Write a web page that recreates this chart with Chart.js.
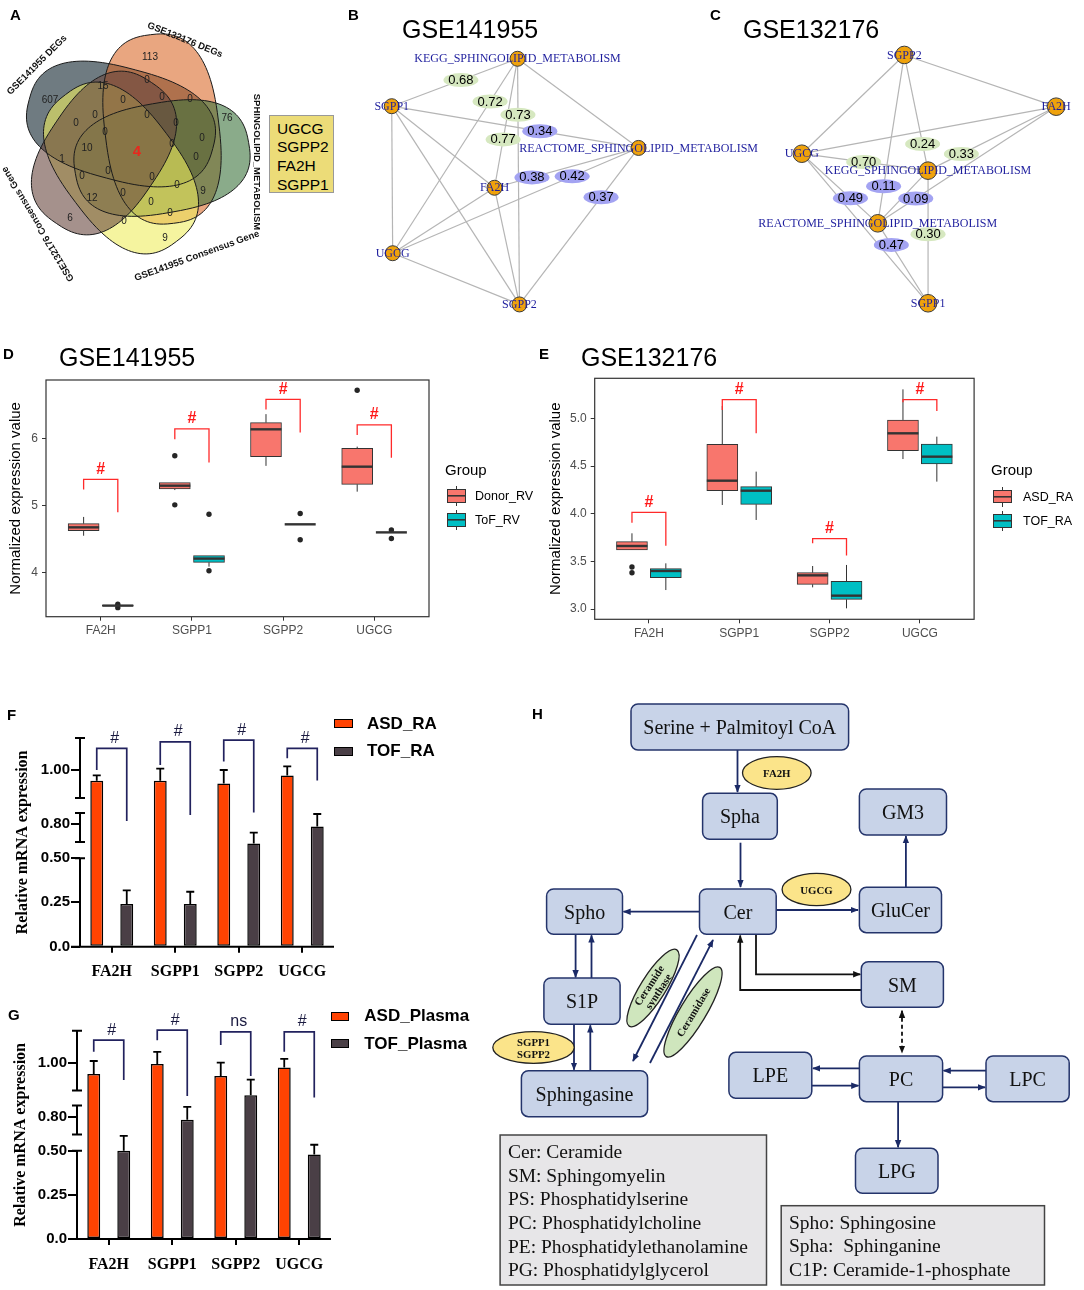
<!DOCTYPE html>
<html>
<head>
<meta charset="utf-8">
<script src="https://cdn.jsdelivr.net/npm/chart.js@4.4.1/dist/chart.umd.min.js"></script>
<style>
  body { margin: 0; background: #fff; }
  #page { position: relative; width: 1084px; height: 1290px; overflow: hidden; font-family: "Liberation Sans", Arial, sans-serif; }
  canvas { position: absolute; }
  .abs { position: absolute; white-space: nowrap; line-height: 20px; }
  .letter { font-weight: bold; font-size: 15px; }
  .title { font-size: 25px; line-height: 30px; }
  .genebox { position: absolute; left: 269px; top: 115px; width: 65px; height: 78px; box-sizing: border-box;
    border: 1px solid #999; background: #ecdc78; font-size: 15.5px; line-height: 18.7px; padding: 3.7px 0 0 7px; }
  .key { position: absolute; width: 19px; height: 13.3px; box-sizing: border-box; border: 1px solid #333;
    background-image: linear-gradient(#333, #333); background-size: 100% 1.6px; background-position: center; background-repeat: no-repeat; }
  .key::before, .key::after { content: ""; position: absolute; left: 8px; width: 1px; height: 3.5px; background: #333; }
  .key::before { top: -4.5px; }
  .key::after { bottom: -4.5px; }
  .bkey { position: absolute; width: 18.4px; height: 9px; box-sizing: border-box; border: 1.5px solid #000; }
  .blab { font-weight: bold; font-size: 17px; }
</style>
</head>
<body>
<div id="page">
  <canvas id="venn" width="340" height="300" style="left:0;top:0"></canvas>
  <canvas id="netB" width="430" height="330" style="left:340px;top:0"></canvas>
  <canvas id="netC" width="384" height="330" style="left:700px;top:0"></canvas>
  <canvas id="boxD" width="540" height="310" style="left:0;top:340px"></canvas>
  <canvas id="boxE" width="544" height="310" style="left:540px;top:340px"></canvas>
  <canvas id="barF" width="480" height="300" style="left:0;top:690px"></canvas>
  <canvas id="barG" width="480" height="300" style="left:0;top:990px"></canvas>

  <div class="abs letter" style="left:10px;top:5px">A</div>
  <div class="abs letter" style="left:348px;top:5px">B</div>
  <div class="abs letter" style="left:710px;top:5px">C</div>
  <div class="abs letter" style="left:3px;top:344px">D</div>
  <div class="abs letter" style="left:539px;top:344px">E</div>
  <div class="abs letter" style="left:7px;top:705px">F</div>
  <div class="abs letter" style="left:8px;top:1005px">G</div>
  <div class="abs letter" style="left:532px;top:704px">H</div>

  <div class="abs title" style="left:402px;top:14px">GSE141955</div>
  <div class="abs title" style="left:743px;top:14px">GSE132176</div>
  <div class="abs title" style="left:59px;top:342px">GSE141955</div>
  <div class="abs title" style="left:581px;top:342px">GSE132176</div>

  <div class="genebox" id="genebox"></div>

  <div class="abs" style="left:445px;top:460px;font-size:15px">Group</div>
  <div class="key" style="left:446.5px;top:489.3px;background-color:#F8766D"></div>
  <div class="key" style="left:446.5px;top:513.3px;background-color:#00BFC4"></div>
  <div class="abs" style="left:475px;top:486px;font-size:12.5px">Donor_RV</div>
  <div class="abs" style="left:475px;top:510px;font-size:12.5px">ToF_RV</div>

  <div class="abs" style="left:991px;top:460px;font-size:15px">Group</div>
  <div class="key" style="left:993.3px;top:490px;background-color:#F8766D"></div>
  <div class="key" style="left:993.3px;top:514.3px;background-color:#00BFC4"></div>
  <div class="abs" style="left:1023px;top:486.7px;font-size:12.5px">ASD_RA</div>
  <div class="abs" style="left:1023px;top:511px;font-size:12.5px">TOF_RA</div>

  <div class="bkey" style="left:334.3px;top:719.3px;background:#ff4302"></div>
  <div class="bkey" style="left:334.3px;top:746.7px;background:#4a3f46"></div>
  <div class="abs blab" style="left:367px;top:713.8px">ASD_RA</div>
  <div class="abs blab" style="left:367px;top:741.2px">TOF_RA</div>

  <div class="bkey" style="left:331px;top:1011.7px;background:#ff4302"></div>
  <div class="bkey" style="left:331px;top:1039.3px;background:#4a3f46"></div>
  <div class="abs blab" style="left:364.3px;top:1006.2px">ASD_Plasma</div>
  <div class="abs blab" style="left:364.3px;top:1033.8px">TOF_Plasma</div>

  <svg id="pathway" width="604" height="600" style="position:absolute;left:480px;top:690px"
       font-family="Liberation Serif, Times New Roman, serif">
    <defs>
      <marker id="ahN" viewBox="0 0 10 10" refX="9" refY="5" markerUnits="userSpaceOnUse" markerWidth="8" markerHeight="8" orient="auto-start-reverse">
        <path d="M0,1 L10,5 L0,9 z" fill="#1b2a66"/>
      </marker>
      <marker id="ahK" viewBox="0 0 10 10" refX="9" refY="5" markerUnits="userSpaceOnUse" markerWidth="8" markerHeight="8" orient="auto-start-reverse">
        <path d="M0,1 L10,5 L0,9 z" fill="#111"/>
      </marker>
    </defs>
    <g stroke="#1b2a66" stroke-width="1.8" fill="none" marker-end="url(#ahN)">
      <line x1="257.5" y1="60" x2="257.5" y2="102"/>
      <line x1="260.5" y1="152.7" x2="260.5" y2="197"/>
      <line x1="219.5" y1="221.7" x2="143.5" y2="221.7"/>
      <line x1="296.2" y1="220" x2="378" y2="220"/>
      <line x1="425.9" y1="197" x2="425.9" y2="146"/>
      <line x1="95.6" y1="244.3" x2="95.6" y2="287.3"/>
      <line x1="111.5" y1="288" x2="111.5" y2="245.3"/>
      <line x1="94" y1="334.3" x2="94" y2="379.7"/>
      <line x1="110.3" y1="380.7" x2="110.3" y2="335.3"/>
      <line x1="217" y1="245" x2="153" y2="371"/>
      <line x1="170" y1="373" x2="233" y2="250"/>
      <line x1="379.4" y1="378.3" x2="333" y2="378.3"/>
      <line x1="331.8" y1="395.7" x2="378.4" y2="395.7"/>
      <line x1="506" y1="380.7" x2="463.6" y2="380.7"/>
      <line x1="462.6" y1="397.3" x2="505" y2="397.3"/>
      <line x1="418.1" y1="411.7" x2="418.1" y2="457.3"/>
    </g>
    <g stroke="#111" stroke-width="1.8" fill="none" marker-end="url(#ahK)">
      <polyline points="276,244.3 276,284.3 380.3,284.3"/>
      <polyline points="381.3,300 260.2,300 260.2,245.5"/>
      <line x1="422" y1="320.7" x2="422" y2="362.7" stroke-dasharray="4 3" marker-start="url(#ahK)"/>
    </g>
    <g fill="#c8d3e8" stroke="#24346b" stroke-width="1.5">
      <rect x="151" y="14" width="217.6" height="46" rx="7"/>
      <rect x="222.6" y="103.3" width="74.7" height="46" rx="7"/>
      <rect x="379.4" y="99" width="87.1" height="46" rx="7"/>
      <rect x="66.6" y="199" width="75.9" height="45.3" rx="7"/>
      <rect x="219.5" y="199" width="76.7" height="45.3" rx="7"/>
      <rect x="379.4" y="197.3" width="82.1" height="45.4" rx="7"/>
      <rect x="381.3" y="271.7" width="82.1" height="45.6" rx="7"/>
      <rect x="63.9" y="288" width="76.2" height="46.3" rx="7"/>
      <rect x="41.4" y="380.7" width="126.2" height="46" rx="7"/>
      <rect x="248.9" y="362.3" width="82.9" height="46" rx="7"/>
      <rect x="379.4" y="366" width="83.2" height="45.7" rx="7"/>
      <rect x="506" y="366" width="83.2" height="45.7" rx="7"/>
      <rect x="375.5" y="458.3" width="82.5" height="45" rx="7"/>
    </g>
    <g font-size="20" text-anchor="middle" dominant-baseline="central" fill="#111">
      <text x="259.8" y="37">Serine + Palmitoyl CoA</text>
      <text x="260" y="126.3">Spha</text>
      <text x="423" y="122">GM3</text>
      <text x="104.6" y="221.7">Spho</text>
      <text x="257.9" y="221.7">Cer</text>
      <text x="420.5" y="220">GluCer</text>
      <text x="422.4" y="294.5">SM</text>
      <text x="102" y="311.2">S1P</text>
      <text x="104.5" y="403.7">Sphingasine</text>
      <text x="290.4" y="385.3">LPE</text>
      <text x="421" y="388.9">PC</text>
      <text x="547.6" y="388.9">LPC</text>
      <text x="416.8" y="480.8">LPG</text>
    </g>
    <g stroke="#222" stroke-width="1.3">
      <ellipse cx="296.8" cy="83" rx="34.3" ry="16.3" fill="#fbe48a"/>
      <ellipse cx="336.5" cy="199.5" rx="34.4" ry="16.2" fill="#fbe48a"/>
      <ellipse cx="53.5" cy="357.5" rx="40.7" ry="15.8" fill="#fbe48a"/>
      <ellipse cx="173" cy="298" rx="45" ry="12.5" fill="#cfe6bd" transform="rotate(-58 173 298)"/>
      <ellipse cx="213" cy="322" rx="52" ry="13" fill="#cfe6bd" transform="rotate(-59 213 322)"/>
    </g>
    <g font-size="10.8" font-weight="bold" text-anchor="middle" dominant-baseline="central" fill="#111">
      <text x="296.8" y="83">FA2H</text>
      <text x="336.5" y="199.5">UGCG</text>
      <text x="53.5" y="351.5">SGPP1</text>
      <text x="53.5" y="364">SGPP2</text>
      <g transform="translate(173 298) rotate(-57)">
        <text x="0" y="-5">Ceramide</text>
        <text x="0" y="6">synthase</text>
      </g>
      <g transform="translate(213 322) rotate(-59)">
        <text x="0" y="0">Ceramidase</text>
      </g>
    </g>
    <rect x="20.1" y="445" width="266.4" height="150" fill="#e7e6e8" stroke="#444" stroke-width="1.5"/>
    <rect x="301.2" y="515.7" width="263.3" height="79.3" fill="#e7e6e8" stroke="#444" stroke-width="1.5"/>
    <g font-size="19.5" dominant-baseline="central" fill="#111">
      <text x="27.9" y="461.7">Cer: Ceramide</text>
      <text x="27.9" y="485.3">SM: Sphingomyelin</text>
      <text x="27.9" y="508.9">PS: Phosphatidylserine</text>
      <text x="27.9" y="532.5">PC: Phosphatidylcholine</text>
      <text x="27.9" y="556.1">PE: Phosphatidylethanolamine</text>
      <text x="27.9" y="579.7">PG: Phosphatidylglycerol</text>
      <text x="309" y="532.3">Spho: Sphingosine</text>
      <text x="309" y="555.7" xml:space="preserve">Spha:  Sphinganine</text>
      <text x="309" y="579">C1P: Ceramide-1-phosphate</text>
    </g>
  </svg>
</div>

<script>
// ---------------- data ----------------
const genes = ['FA2H', 'SGPP1', 'SGPP2', 'UGCG'];

// A: five-set Venn
const vennSets = ['GSE141955 DEGs', 'GSE132176 DEGs', 'SPHINGOLIPID_METABOLISM', 'GSE141955 Consensus Gene', 'GSE132176 Consensus Gene'];
const vennCounts = [607, 113, 15, 0, 0, 0, 0, 0, 0, 76, 0, 0, 0, 0, 10, 4, 0, 0, 1, 0, 0, 0, 0, 9, 12, 0, 0, 0, 6, 0, 9];
const vennCountX = [50, 150, 103, 147, 162, 190, 123, 95, 147, 227, 76, 105, 176, 202, 87, 137, 172, 196, 62, 82, 108, 152, 177, 203, 92, 123, 151, 170, 70, 124, 165];
const vennCountY = [100, 57, 86, 80, 97, 99, 100, 115, 115, 118, 123, 132, 123, 138, 148, 152, 144, 157, 159, 176, 171, 177, 185, 191, 198, 193, 202, 213, 218, 221, 238];
const sharedGenes = ['UGCG', 'SGPP2', 'FA2H', 'SGPP1'];

// B: GSE141955 network
const netBNodes = ['KEGG_SPHINGOLIPID_METABOLISM', 'SGPP1', 'REACTOME_SPHINGOLIPID_METABOLISM', 'FA2H', 'UGCG', 'SGPP2'];
const netBX = [176, 45, 302, 152, 46, 178];
const netBY = [53, 103, 147, 189, 258, 312];
const netBFrom = [0, 0, 0, 0, 0, 2, 2, 2, 2, 1, 1, 1, 3, 3, 4];
const netBTo = [1, 4, 5, 3, 2, 1, 3, 4, 5, 3, 4, 5, 4, 5, 5];
const netBWeight = [0.68, 0.72, 0.73, 0.77, null, 0.34, 0.38, 0.42, 0.37, null, null, null, null, null, null];
const netBLabelT = [0.45, 0.22, 0.228, 0.625, 0, 0.4, 0.74, 0.27, 0.315, 0, 0, 0, 0, 0, 0];

// C: GSE132176 network
const netCNodes = ['SGPP2', 'FA2H', 'UGCG', 'KEGG_SPHINGOLIPID_METABOLISM', 'REACTOME_SPHINGOLIPID_METABOLISM', 'SGPP1'];
const netCX = [205, 365, 97, 230, 177, 230];
const netCY = [48, 103, 153, 171, 227, 312];
const netCFrom = [0, 0, 0, 0, 1, 1, 1, 2, 2, 2, 3, 3, 4];
const netCTo = [2, 1, 3, 4, 2, 3, 4, 3, 4, 5, 4, 5, 5];
const netCWeight = [null, null, 0.24, 0.11, null, 0.33, 0.09, 0.70, 0.49, null, null, 0.30, 0.47];
const netCLabelT = [0, 0, 0.77, 0.78, 0, 0.74, 0.787, 0.49, 0.64, 0, 0, 0.48, 0.27];

// D: GSE141955 box stats [lower whisker, q1, median, q3, upper whisker]
const donorRv = [[4.55, 4.625, 4.675, 4.73, 4.83], [5.23, 5.245, 5.295, 5.34, 5.34], [5.59, 5.727, 6.134, 6.233, 6.36], [5.206, 5.315, 5.578, 5.851, 5.876]];
const donorRvOut = [[], [5.74, 5.01], [], [6.715]];
const tofRv = [[3.49, 3.505, 3.51, 3.515, 3.53], [4.09, 4.154, 4.21, 4.253, 4.253], [4.72, 4.72, 4.72, 4.72, 4.72], [4.6, 4.6, 4.6, 4.6, 4.6]];
const tofRvOut = [[3.53, 3.48], [4.87, 4.03], [4.88, 4.49], [4.635, 4.51]];
const dTicks = [4, 5, 6];
const dTickLabels = ['4', '5', '6'];
const dBracket = [[5.39, 5.24, 4.90], [6.14, 5.985, 5.64], [6.58, 6.43, 6.085], [6.2, 6.05, 5.71]];

// E: GSE132176 box stats
const asdRa = [[3.62, 3.619, 3.661, 3.706, 3.794], [4.091, 4.241, 4.346, 4.727, 5.129], [3.227, 3.259, 3.353, 3.381, 3.451], [4.573, 4.661, 4.843, 4.983, 5.304]];
const asdRaOut = [[3.44, 3.38], [], [], []];
const tofRa = [[3.199, 3.329, 3.399, 3.423, 3.479], [3.934, 4.098, 4.241, 4.283, 4.441], [3.007, 3.101, 3.14, 3.29, 3.462], [4.336, 4.521, 4.598, 4.731, 4.808]];
const tofRaOut = [[], [], [], []];
const eTicks = [3.0, 3.5, 4.0, 4.5, 5.0];
const eTickLabels = ['3.0', '3.5', '4.0', '4.5', '5.0'];
const eBracket = [[4.014, 3.906, 3.664], [5.196, 5.087, 4.843], [3.738, 3.689, 3.56], [5.196, 5.168, 5.077]];

// F / G: qPCR means and SD
const raAsdMean = [0.96, 0.96, 0.95, 0.98];
const raAsdSd = [0.02, 0.045, 0.05, 0.033];
const raTofMean = [0.24, 0.24, 0.63, 0.78];
const raTofSd = [0.078, 0.07, 0.097, 0.058];
const raSig = ['#', '#', '#', '#'];
const raBracket = [[1.08, 1.0, 0.812], [1.104, 1.018, 0.834], [1.11, 1.031, 0.843], [1.08, 1.043, 0.961]];

const plasmaAsdMean = [0.958, 0.995, 0.951, 0.982];
const plasmaAsdSd = [0.048, 0.045, 0.049, 0.032];
const plasmaTofMean = [0.50, 0.774, 0.88, 0.479];
const plasmaTofSd = [0.132, 0.063, 0.057, 0.074];
const plasmaSig = ['#', '#', 'ns', '#'];
const plasmaBracket = [[1.083, 1.04, 0.936], [1.12, 1.083, 0.877], [1.114, 1.065, 0.951], [1.114, 1.04, 0.871]];

const qpcrTicks = [0, 0.25, 0.5, 0.8, 1.0];
const qpcrTickLabels = ['0.0', '0.25', '0.50', '0.80', '1.00'];
// broken axis: value knots and where they sit along the axis
const brokenKnotValue = [0, 0.25, 0.5, 0.8, 1.0, 1.118];
const brokenKnotFrac = [0, 0.2127, 0.4236, 0.5865, 0.8467, 1];
const brokenSegments = [[0, 0.5], [0.644, 0.842], [0.897, 1.118]];

// ---------------- setup ----------------
Chart.defaults.font.family = '"Liberation Sans", Arial, sans-serif';
Chart.defaults.color = '#000';
const SANS = '"Liberation Sans", Arial, sans-serif';
const SERIF = '"Liberation Serif", "Times New Roman", serif';

document.getElementById('genebox').innerHTML = sharedGenes.join('<br>');

class BrokenScale extends Chart.LinearScale {
  static id = 'broken';
  static defaults = Chart.LinearScale.defaults;
  getPixelForValue(value) {
    const kv = brokenKnotValue, kf = brokenKnotFrac;
    let f = 0;
    for (let i = 1; i < kv.length; i++) {
      if (value <= kv[i] || i === kv.length - 1) {
        f = kf[i - 1] + (value - kv[i - 1]) / (kv[i] - kv[i - 1]) * (kf[i] - kf[i - 1]);
        break;
      }
    }
    return this.getPixelForDecimal(f);
  }
  getValueForPixel(pixel) {
    const f = this.getDecimalForPixel(pixel);
    const kv = brokenKnotValue, kf = brokenKnotFrac;
    for (let i = 1; i < kf.length; i++) {
      if (f <= kf[i] || i === kf.length - 1) {
        return kv[i - 1] + (f - kf[i - 1]) / (kf[i] - kf[i - 1]) * (kv[i] - kv[i - 1]);
      }
    }
    return 0;
  }
}
Chart.register(BrokenScale);

const base = { responsive: false, animation: false, events: [], devicePixelRatio: 1 };
const noLegend = { legend: { display: false }, tooltip: { enabled: false } };

// ---------------- A: Venn ----------------
const vennFill = ['rgba(15,35,45,0.6)', 'rgba(218,107,43,0.6)', 'rgba(60,115,60,0.6)', 'rgba(238,236,95,0.6)', 'rgba(105,72,63,0.6)'];
// shape layout: centre, half-length, half-width, rotation (deg)
const vennShapeCX = [121, 162, 162, 121, 104];
const vennShapeCY = [124, 129, 158, 168, 153];
const vennShapeA = [95, 95, 88, 92, 85];
const vennShapeB = [56, 57, 55, 57, 57];
const vennShapeRot = [15, 83, 170, 233, 304];

const vennPlugin = {
  id: 'vennShapes',
  beforeDatasetsDraw(chart) {
    const { ctx } = chart;
    const sx = chart.scales.x, sy = chart.scales.y;
    const paths = vennSets.map((_, k) => {
      const cx = vennShapeCX[k], cy = vennShapeCY[k], a = vennShapeA[k], b = vennShapeB[k];
      const rot = vennShapeRot[k] * Math.PI / 180;
      const p = new Path2D();
      const n = 2.6;
      for (let j = 0; j <= 120; j++) {
        const t = j / 120 * Math.PI * 2;
        const c = Math.cos(t), si = Math.sin(t);
        const ex = a * Math.sign(c) * Math.pow(Math.abs(c), 2 / n);
        const ey = b * Math.sign(si) * Math.pow(Math.abs(si), 2 / n);
        const vx = cx + ex * Math.cos(rot) - ey * Math.sin(rot);
        const vy = cy + ex * Math.sin(rot) + ey * Math.cos(rot);
        const px = sx.getPixelForValue(vx), py = sy.getPixelForValue(vy);
        if (j === 0) p.moveTo(px, py); else p.lineTo(px, py);
      }
      p.closePath();
      return p;
    });
    ctx.save();
    paths.forEach((p, k) => { ctx.fillStyle = vennFill[k]; ctx.fill(p); });
    ctx.strokeStyle = '#1a1a1a';
    ctx.lineWidth = 1;
    paths.forEach((p) => ctx.stroke(p));
    ctx.restore();
  },
  afterDatasetsDraw(chart) {
    const { ctx } = chart;
    const meta = chart.getDatasetMeta(0);
    ctx.save();
    ctx.textAlign = 'center';
    ctx.textBaseline = 'middle';
    meta.data.forEach((pt, i) => {
      const v = vennCounts[i];
      if (v === 4) { ctx.font = 'bold 15px ' + SANS; ctx.fillStyle = '#e8281e'; }
      else { ctx.font = '10px ' + SANS; ctx.fillStyle = '#222'; }
      ctx.fillText(String(v), pt.x, pt.y);
    });
    const labelPos = [[37, 65, -45], [185, 40, 22], [257, 162, 90], [197, 256, -20], [38, 224, -121]];
    ctx.font = 'bold 9.5px ' + SANS;
    ctx.fillStyle = '#111';
    vennSets.forEach((name, k) => {
      const [lx, ly, r] = labelPos[k];
      ctx.save();
      ctx.translate(lx, ly);
      ctx.rotate(r * Math.PI / 180);
      ctx.fillText(name, 0, 0);
      ctx.restore();
    });
    ctx.restore();
  },
};

new Chart(document.getElementById('venn'), {
  type: 'scatter',
  data: { datasets: [{ data: vennCounts.map((c, i) => ({ x: vennCountX[i], y: vennCountY[i] })), pointRadius: 0 }] },
  options: {
    ...base,
    plugins: noLegend,
    layout: { padding: 0 },
    scales: {
      x: { type: 'linear', min: 0, max: 340, display: false },
      y: { type: 'linear', min: 0, max: 300, reverse: true, display: false },
    },
  },
  plugins: [vennPlugin],
});

// ---------------- B / C: networks ----------------
const netPlugin = {
  id: 'netLabels',
  afterDatasetsDraw(chart, args, o) {
    const { ctx } = chart;
    const sx = chart.scales.x, sy = chart.scales.y;
    ctx.save();
    o.weight.forEach((w, i) => {
      if (w === null) return;
      const f = o.from[i], t = o.to[i], tt = o.t[i];
      const px = sx.getPixelForValue(o.nx[f] + tt * (o.nx[t] - o.nx[f]));
      const py = sy.getPixelForValue(o.ny[f] + tt * (o.ny[t] - o.ny[f]));
      const isKegg = o.nodes[f].startsWith('KEGG') || o.nodes[t].startsWith('KEGG');
      ctx.beginPath();
      ctx.ellipse(px, py, 17.5, 7, 0, 0, Math.PI * 2);
      ctx.fillStyle = isKegg ? '#d6e8c0' : '#a3a3f2';
      ctx.fill();
      ctx.fillStyle = '#000';
      ctx.font = '13px ' + SANS;
      ctx.textAlign = 'center';
      ctx.textBaseline = 'middle';
      ctx.fillText(w.toFixed(2), px, py + 0.5);
    });
    const meta = chart.getDatasetMeta(0);
    ctx.font = '12px ' + SERIF;
    ctx.fillStyle = '#1f1f9e';
    ctx.textAlign = 'center';
    ctx.textBaseline = 'middle';
    meta.data.forEach((pt, i) => ctx.fillText(o.nodes[i], pt.x, pt.y + 0.5));
    ctx.restore();
  },
};

function netChart(id, nodes, nx, ny, from, to, weight, t, r) {
  const el = document.getElementById(id);
  const datasets = [{
    type: 'scatter',
    data: nodes.map((n, i) => ({ x: nx[i], y: ny[i] })),
    pointRadius: r,
    backgroundColor: '#efa20c',
    borderColor: '#3a3a3a',
    borderWidth: 1,
  }];
  from.forEach((f, i) => {
    datasets.push({
      type: 'line',
      data: [{ x: nx[f], y: ny[f] }, { x: nx[to[i]], y: ny[to[i]] }],
      borderColor: '#b5b5b5',
      borderWidth: 1.2,
      pointRadius: 0,
      fill: false,
    });
  });
  return new Chart(el, {
    type: 'scatter',
    data: { datasets },
    options: {
      ...base,
      layout: { padding: 0 },
      plugins: { ...noLegend, netLabels: { nodes, nx, ny, from, to, weight, t } },
      scales: {
        x: { type: 'linear', min: 0, max: el.width, display: false },
        y: { type: 'linear', min: 0, max: el.height, reverse: true, display: false },
      },
    },
    plugins: [netPlugin],
  });
}

netChart('netB', netBNodes, netBX, netBY, netBFrom, netBTo, netBWeight, netBLabelT, 7.5);
netChart('netC', netCNodes, netCX, netCY, netCFrom, netCTo, netCWeight, netCLabelT, 8.8);

// ---------------- D / E: box plots ----------------
const boxPlugin = {
  id: 'boxParts',
  afterDatasetsDraw(chart, args, o) {
    const { ctx, chartArea: ca } = chart;
    const sy = chart.scales.y;
    ctx.save();
    chart.data.datasets.forEach((ds, di) => {
      if (!ds.stats) return;
      const meta = chart.getDatasetMeta(di);
      ds.stats.forEach((s, i) => {
        const el = meta.data[i];
        const hw = el.width / 2;
        ctx.strokeStyle = '#333';
        ctx.lineWidth = 1;
        ctx.beginPath();
        ctx.moveTo(el.x, sy.getPixelForValue(s[0]));
        ctx.lineTo(el.x, sy.getPixelForValue(s[1]));
        ctx.moveTo(el.x, sy.getPixelForValue(s[3]));
        ctx.lineTo(el.x, sy.getPixelForValue(s[4]));
        ctx.stroke();
        ctx.lineWidth = 2.4;
        ctx.beginPath();
        ctx.moveTo(el.x - hw, sy.getPixelForValue(s[2]));
        ctx.lineTo(el.x + hw, sy.getPixelForValue(s[2]));
        ctx.stroke();
      });
    });
    // significance brackets
    const m1 = chart.getDatasetMeta(1), m2 = chart.getDatasetMeta(2);
    ctx.strokeStyle = '#ff2a2a';
    ctx.fillStyle = '#ff1a1a';
    ctx.lineWidth = 1.3;
    ctx.font = 'bold 16px ' + SANS;
    ctx.textAlign = 'center';
    ctx.textBaseline = 'middle';
    o.brackets.forEach((b, i) => {
      const xl = m1.data[i].x, xr = m2.data[i].x;
      const yt = sy.getPixelForValue(b[0]);
      ctx.beginPath();
      ctx.moveTo(xl, sy.getPixelForValue(b[1]));
      ctx.lineTo(xl, yt);
      ctx.lineTo(xr, yt);
      ctx.lineTo(xr, sy.getPixelForValue(b[2]));
      ctx.stroke();
      ctx.fillText('#', (xl + xr) / 2, yt - 10);
    });
    // panel border
    ctx.strokeStyle = '#333';
    ctx.lineWidth = 1.2;
    ctx.strokeRect(ca.left, ca.top, ca.right - ca.left, ca.bottom - ca.top);
    ctx.restore();
  },
};

function boxChart(id, o) {
  const dx = 0.1875;
  const outs = [];
  o.outA.forEach((arr, i) => arr.forEach((v) => outs.push({ x: i + 1 - dx, y: v })));
  o.outB.forEach((arr, i) => arr.forEach((v) => outs.push({ x: i + 1 + dx, y: v })));
  const boxDs = (stats, off, color) => ({
    data: stats.map((s, i) => ({ x: i + 1 + off, y: [s[1], s[3]] })),
    backgroundColor: color,
    borderColor: '#333',
    borderWidth: 1,
    borderSkipped: false,
    barThickness: 31,
    grouped: false,
    stats,
  });
  return new Chart(document.getElementById(id), {
    type: 'bar',
    data: {
      datasets: [
        { type: 'scatter', data: outs, pointRadius: 2.7, backgroundColor: '#262626', borderWidth: 0 },
        boxDs(o.a, -dx, '#F8766D'),
        boxDs(o.b, dx, '#00BFC4'),
      ],
    },
    options: {
      ...base,
      layout: { padding: o.pad },
      plugins: { ...noLegend, boxParts: { brackets: o.brackets } },
      scales: {
        x: {
          type: 'linear', min: 0.4, max: 4.6, offset: false,
          afterBuildTicks: (s) => { s.ticks = genes.map((g, i) => ({ value: i + 1 })); },
          ticks: { callback: (v) => genes[v - 1], color: '#4d4d4d', font: { size: 12 }, padding: 3, maxRotation: 0, autoSkip: false },
          grid: { drawOnChartArea: false, drawTicks: true, tickLength: 4, color: '#333', offset: false },
          border: { display: false },
          afterFit: (s) => { s.height = 20; },
        },
        y: {
          type: 'linear', min: o.yMin, max: o.yMax, beginAtZero: false,
          afterBuildTicks: (s) => { s.ticks = o.ticks.map((v) => ({ value: v })); },
          ticks: { callback: (v, i) => o.tickLabels[i], color: '#4d4d4d', font: { size: 12 }, padding: 4 },
          grid: { drawOnChartArea: false, drawTicks: true, tickLength: 4, color: '#333' },
          border: { display: false },
          title: { display: true, text: 'Normalized expression value', font: { size: 15 }, color: '#000', padding: { top: o.titlePad, bottom: 0 } },
          afterFit: (s) => { s.width = o.axisW; },
        },
      },
    },
    plugins: [boxPlugin],
  });
}

boxChart('boxD', {
  a: donorRv, b: tofRv, outA: donorRvOut, outB: tofRvOut, brackets: dBracket,
  yMin: 3.345, yMax: 6.868, ticks: dTicks, tickLabels: dTickLabels,
  pad: { left: 0, right: 111, top: 40, bottom: 13.3 }, axisW: 46, titlePad: 6.6,
});
boxChart('boxE', {
  a: asdRa, b: tofRa, outA: asdRaOut, outB: tofRaOut, brackets: eBracket,
  yMin: 2.892, yMax: 5.42, ticks: eTicks, tickLabels: eTickLabels,
  pad: { left: 0, right: 109.9, top: 38.3, bottom: 10.7 }, axisW: 54.7, titlePad: 6.7,
});

// ---------------- F / G: qPCR bars ----------------
const qpcrPlugin = {
  id: 'qpcrParts',
  afterDatasetsDraw(chart, args, o) {
    const { ctx, chartArea: ca } = chart;
    const sy = chart.scales.y;
    ctx.save();
    // broken y axis
    ctx.strokeStyle = '#000';
    ctx.lineWidth = 2;
    brokenSegments.forEach((seg, si) => {
      const y0 = sy.getPixelForValue(seg[0]), y1 = sy.getPixelForValue(seg[1]);
      ctx.beginPath();
      ctx.moveTo(ca.left, y0);
      ctx.lineTo(ca.left, y1);
      if (si > 0) { ctx.moveTo(ca.left - 5, y0); ctx.lineTo(ca.left + 5, y0); }
      ctx.moveTo(ca.left - 5, y1);
      ctx.lineTo(ca.left + 5, y1);
      ctx.stroke();
    });
    // x axis line
    ctx.beginPath();
    ctx.moveTo(ca.left - 9, ca.bottom);
    ctx.lineTo(ca.right, ca.bottom);
    ctx.stroke();
    // error bars
    ctx.lineWidth = 1.8;
    chart.data.datasets.forEach((ds, di) => {
      const meta = chart.getDatasetMeta(di);
      ds.data.forEach((v, i) => {
        const el = meta.data[i];
        const yt = sy.getPixelForValue(v), ye = sy.getPixelForValue(v + ds.err[i]);
        ctx.beginPath();
        ctx.moveTo(el.x, yt);
        ctx.lineTo(el.x, ye);
        ctx.moveTo(el.x - 4, ye);
        ctx.lineTo(el.x + 4, ye);
        ctx.stroke();
      });
    });
    // brackets
    const m0 = chart.getDatasetMeta(0), m1 = chart.getDatasetMeta(1);
    ctx.strokeStyle = '#22225e';
    ctx.fillStyle = '#1a1a40';
    ctx.lineWidth = 1.7;
    ctx.font = '16px ' + SANS;
    ctx.textAlign = 'center';
    ctx.textBaseline = 'middle';
    o.brackets.forEach((b, i) => {
      const xl = m0.data[i].x, xr = m1.data[i].x;
      const yt = sy.getPixelForValue(b[0]);
      ctx.beginPath();
      ctx.moveTo(xl, sy.getPixelForValue(b[1]));
      ctx.lineTo(xl, yt);
      ctx.lineTo(xr, yt);
      ctx.lineTo(xr, sy.getPixelForValue(b[2]));
      ctx.stroke();
      ctx.fillText(o.sig[i], (xl + xr) / 2 + 3, yt - 10);
    });
    ctx.restore();
  },
};

function qpcrChart(id, o) {
  const bar = (data, err, color) => ({
    data, err,
    backgroundColor: color,
    borderColor: '#000',
    borderWidth: 1.5,
    borderSkipped: false,
    categoryPercentage: 0.945,
    barPercentage: 0.43,
  });
  return new Chart(document.getElementById(id), {
    type: 'bar',
    data: {
      labels: genes,
      datasets: [bar(o.asd, o.asdSd, '#ff4302'), bar(o.tof, o.tofSd, '#4a3f46')],
    },
    options: {
      ...base,
      layout: { padding: o.pad },
      plugins: { ...noLegend, qpcrParts: { brackets: o.brackets, sig: o.sig } },
      scales: {
        x: {
          grid: { display: true, drawOnChartArea: false, drawTicks: true, tickLength: 6, color: '#000', lineWidth: 2, offset: false },
          border: { display: false },
          ticks: { font: { family: SERIF, weight: 'bold', size: 16 }, color: '#000', padding: 10, maxRotation: 0 },
          afterFit: (s) => { s.height = 30; },
        },
        y: {
          type: 'broken', min: 0, max: 1.118,
          afterBuildTicks: (s) => { s.ticks = qpcrTicks.map((v) => ({ value: v })); },
          ticks: { callback: (v, i) => qpcrTickLabels[i], font: { weight: 'bold', size: 15 }, color: '#000', padding: 1 },
          grid: { display: true, drawOnChartArea: false, drawTicks: true, tickLength: 9, color: '#000', lineWidth: 2 },
          border: { display: false },
          title: { display: true, text: 'Relative mRNA expression', font: { family: SERIF, weight: 'bold', size: 16 }, color: '#000', padding: { top: o.titlePad, bottom: 0 } },
          afterFit: (s) => { s.width = o.axisW; },
        },
      },
    },
    plugins: [qpcrPlugin],
  });
}

qpcrChart('barF', {
  asd: raAsdMean, asdSd: raAsdSd, tof: raTofMean, tofSd: raTofSd, brackets: raBracket, sig: raSig,
  pad: { left: 0, right: 146, top: 48, bottom: 13.3 }, axisW: 80, titlePad: 13.4,
});
qpcrChart('barG', {
  asd: plasmaAsdMean, asdSd: plasmaAsdSd, tof: plasmaTofMean, tofSd: plasmaTofSd, brackets: plasmaBracket, sig: plasmaSig,
  pad: { left: 0, right: 149, top: 40.7, bottom: 21 }, axisW: 77, titlePad: 11.1,
});
</script>
</body>
</html>
